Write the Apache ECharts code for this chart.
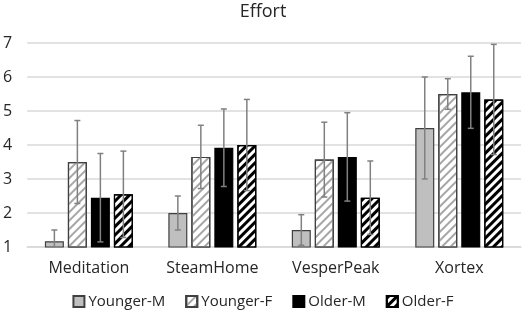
<!DOCTYPE html>
<html>
<head>
<meta charset="utf-8">
<script src="https://cdn.jsdelivr.net/npm/echarts@6/dist/echarts.min.js"></script>
<style>
  html, body { margin: 0; padding: 0; background: #fff; }
  #chart { width: 526px; height: 315px; }
</style>
</head>
<body>
<div id="chart"></div>
<script>
// data
const categories = ['Meditation', 'SteamHome', 'VesperPeak', 'Xortex']
const seriesNames = ['Younger-M', 'Younger-F', 'Older-M', 'Older-F']
const youngerM = [1.17, 2.0, 1.5, 4.5]
const youngerMErr = [0.33, 0.5, 0.45, 1.5]
const youngerF = [3.5, 3.65, 3.57, 5.5]
const youngerFErr = [1.22, 0.93, 1.1, 0.45]
const olderM = [2.45, 3.92, 3.65, 5.55]
const olderMErr = [1.3, 1.14, 1.3, 1.06]
const olderF = [2.55, 4.0, 2.45, 5.34]
const olderFErr = [1.27, 1.34, 1.08, 1.62]

const FONT = 'Open Sans'
const BAR_W = 19
const BAR_GAP = 4

const values = [youngerM, youngerF, olderM, olderF]
const errors = [youngerMErr, youngerFErr, olderMErr, olderFErr]

// bar looks
const styles = [
  { color: '#bfbfbf', borderColor: '#404040', borderWidth: 1.2 },
  {
    color: '#ffffff', borderColor: '#404040', borderWidth: 1.2,
    decal: { symbol: 'rect', symbolSize: 1, dashArrayX: [1, 0], dashArrayY: [2, 4], rotation: -Math.PI / 4, color: '#a6a6a6' }
  },
  { color: '#000000', borderColor: '#000000', borderWidth: 1.2 },
  {
    color: '#ffffff', borderColor: '#000000', borderWidth: 1.2,
    decal: { symbol: 'rect', symbolSize: 1, dashArrayX: [1, 0], dashArrayY: [3, 3], rotation: -Math.PI / 4, color: '#000000' }
  }
]

const chart = echarts.init(document.getElementById('chart'), null, { renderer: 'canvas' })

const barSeries = seriesNames.map((name, i) => ({
  name,
  type: 'bar',
  data: values[i],
  barWidth: BAR_W,
  barGap: (BAR_GAP / BAR_W * 100) + '%',
  itemStyle: styles[i],
  emphasis: { disabled: true }
}))

// error bars drawn on top of the bars
const errorSeries = seriesNames.map((name, i) => ({
  type: 'custom',
  name: name + '-err',
  z: 10,
  silent: true,
  data: values[i].map((v, j) => [j, v - errors[i][j], v + errors[i][j]]),
  renderItem: (params, api) => {
    const offset = -(4 * BAR_W + 3 * BAR_GAP) / 2 + BAR_W / 2 + i * (BAR_W + BAR_GAP)
    const lo = api.coord([api.value(0), Math.max(1, api.value(1))])
    const hi = api.coord([api.value(0), api.value(2)])
    const x = lo[0] + offset
    const cap = 3
    const style = { stroke: '#808080', lineWidth: 1.5 }
    const kids = [
      { type: 'line', shape: { x1: x, y1: lo[1], x2: x, y2: hi[1] }, style },
      { type: 'line', shape: { x1: x - cap, y1: hi[1], x2: x + cap, y2: hi[1] }, style }
    ]
    if (api.value(1) >= 1) {
      kids.push({ type: 'line', shape: { x1: x - cap, y1: lo[1], x2: x + cap, y2: lo[1] }, style })
    }
    return { type: 'group', children: kids }
  }
}))

const option = {
  animation: false,
  textStyle: { fontFamily: FONT },
  title: {
    text: 'Effort',
    left: 'center',
    top: -2,
    textStyle: { fontFamily: FONT, fontSize: 18, fontWeight: 'normal', color: '#262626' }
  },
  legend: {
    data: seriesNames,
    bottom: 1,
    left: 'center',
    itemWidth: 11,
    itemHeight: 11,
    itemGap: 20,
    icon: 'rect',
    textStyle: { fontFamily: FONT, fontSize: 15, color: '#262626', padding: [0, 0, 0, -1] }
  },
  grid: { left: 25, right: 5, top: 43, bottom: 68 },
  xAxis: {
    type: 'category',
    data: categories,
    axisLine: { lineStyle: { color: '#d9d9d9', width: 1.5 } },
    axisTick: { show: false },
    axisLabel: { fontFamily: FONT, fontSize: 16, color: '#262626', margin: 13 }
  },
  yAxis: {
    type: 'value',
    min: 1,
    max: 7,
    interval: 1,
    axisLine: { show: false },
    axisTick: { show: false },
    axisLabel: { fontFamily: FONT, fontSize: 16, color: '#262626', margin: 15 },
    splitLine: { lineStyle: { color: '#d9d9d9', width: 1.5 } }
  },
  series: [...barSeries, ...errorSeries]
}

chart.setOption(option)
</script>
</body>
</html>
